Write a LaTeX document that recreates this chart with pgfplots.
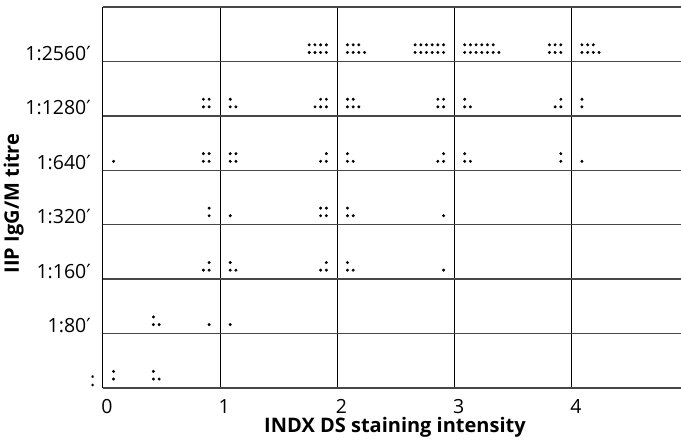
\documentclass[border=0pt]{standalone}
\usepackage{fontspec}
\setmainfont{Open Sans}
\newfontfamily\dv{DejaVu Sans}
\usepackage{pgfplots}
\pgfplotsset{compat=1.18}
\newcommand{\pr}{{\dv ′}}
\begin{document}
\begin{tikzpicture}
\begin{axis}[
  scale only axis,
  width=578pt, height=381pt,
  xmin=0, xmax=4.93, ymin=0, ymax=7,
  axis line style={draw=none},
  major tick length=0pt,
  xtick={0,1,2,3,4},
  xmajorgrids,
  x grid style={black, line width=1pt},
  ytick={0.02,1.02,2.02,3.02,4.02,5.02,6.02},
  yticklabels={:\kern-5pt, 1:80\pr, 1:160\pr, 1:320\pr, 1:640\pr, 1:1280\pr, 1:2560\pr},
  extra y ticks={0,1,2,3,4,5,6,7},
  extra y tick labels={},
  extra y tick style={ymajorgrids=true, major grid style={black!72, line width=1.3pt}},
  /pgf/number format/assume math mode=true,
  tick label style={font=\fontsize{19.5}{22}\selectfont},
  yticklabel style={anchor=base east, inner sep=0pt, xshift=-12pt},
  xticklabel style={anchor=north, inner sep=0pt, yshift=-11pt, xshift=4pt},
  xlabel={INDX DS staining intensity},
  ylabel={IIP IgG/M titre},
  label style={font=\bfseries\fontsize{20}{24}\selectfont},
  xlabel style={at={(axis description cs:0.5,0)}, anchor=base, yshift=-45pt, xshift=3pt, inner sep=0pt},
  ylabel style={at={(axis description cs:0,0.5)}, anchor=base, yshift=84pt, xshift=-6pt, inner sep=0pt},
]
\addplot[only marks, mark=*, mark size=1.3pt, black] table {
x y
1.905 6.165
1.856 6.165
1.808 6.165
1.759 6.165
1.905 6.305
1.856 6.305
1.808 6.305
1.759 6.305
2.085 6.305
2.134 6.305
2.182 6.305
2.085 6.165
2.134 6.165
2.182 6.165
2.231 6.165
2.905 6.165
2.856 6.165
2.808 6.165
2.759 6.165
2.711 6.165
2.662 6.165
2.905 6.305
2.856 6.305
2.808 6.305
2.759 6.305
2.711 6.305
2.662 6.305
3.085 6.305
3.134 6.305
3.182 6.305
3.231 6.305
3.279 6.305
3.328 6.305
3.085 6.165
3.134 6.165
3.182 6.165
3.231 6.165
3.279 6.165
3.328 6.165
3.377 6.165
3.905 6.165
3.856 6.165
3.808 6.165
3.905 6.305
3.856 6.305
3.808 6.305
4.085 6.305
4.134 6.305
4.182 6.305
4.085 6.165
4.134 6.165
4.182 6.165
4.231 6.165
0.905 5.165
0.856 5.165
0.905 5.305
0.856 5.305
1.085 5.305
1.085 5.165
1.134 5.165
1.905 5.305
1.856 5.305
1.905 5.165
1.856 5.165
1.808 5.165
2.085 5.305
2.134 5.305
2.085 5.165
2.134 5.165
2.182 5.165
2.905 5.165
2.856 5.165
2.905 5.305
2.856 5.305
3.085 5.305
3.085 5.165
3.134 5.165
3.905 5.305
3.905 5.165
3.856 5.165
4.085 5.305
4.085 5.165
0.09 4.165
0.905 4.165
0.856 4.165
0.905 4.305
0.856 4.305
1.085 4.165
1.134 4.165
1.085 4.305
1.134 4.305
1.905 4.305
1.905 4.165
1.856 4.165
2.085 4.305
2.085 4.165
2.134 4.165
2.905 4.305
2.905 4.165
2.856 4.165
3.085 4.305
3.085 4.165
3.134 4.165
3.905 4.305
3.905 4.165
4.085 4.165
0.905 3.305
0.905 3.165
1.085 3.165
1.905 3.165
1.856 3.165
1.905 3.305
1.856 3.305
2.085 3.305
2.085 3.165
2.134 3.165
2.905 3.165
0.905 2.305
0.905 2.165
0.856 2.165
1.085 2.305
1.085 2.165
1.134 2.165
1.905 2.305
1.905 2.165
1.856 2.165
2.085 2.305
2.085 2.165
2.134 2.165
2.905 2.165
0.43 1.305
0.43 1.165
0.479 1.165
0.905 1.165
1.085 1.165
0.09 0.165
0.09 0.305
0.43 0.305
0.43 0.165
0.479 0.165
};
\coordinate (bl) at (rel axis cs:0,0);
\coordinate (tr) at (rel axis cs:1,1);
\end{axis}
\pgfresetboundingbox
\path[use as bounding box] ([xshift=-103pt,yshift=-55pt]bl) rectangle ([yshift=7pt]tr);
\end{tikzpicture}
\end{document}
